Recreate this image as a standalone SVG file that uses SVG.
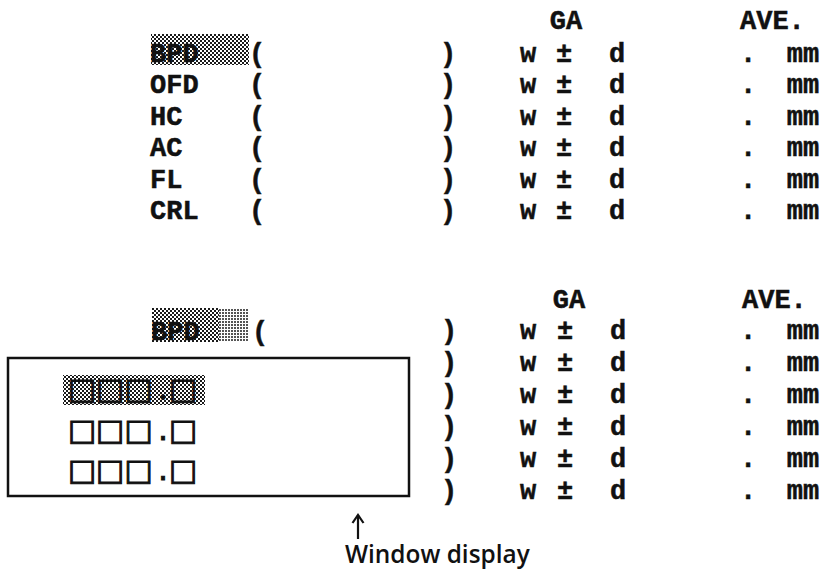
<svg xmlns="http://www.w3.org/2000/svg" width="824" height="569" viewBox="0 0 824 569">
<defs>
<pattern id="dither" width="4" height="4" patternUnits="userSpaceOnUse">
<rect width="4" height="4" fill="#ffffff"/>
<rect x="0" y="0" width="2" height="2" fill="#1a1a1a"/>
<rect x="2" y="2" width="2" height="2" fill="#1a1a1a"/>
</pattern>
<pattern id="dither2" width="3" height="3" patternUnits="userSpaceOnUse">
<rect width="3" height="3" fill="#ffffff"/>
<rect x="0" y="0" width="2" height="2" fill="#555555"/>
</pattern>
<marker id="arrowhead" viewBox="0 0 14 14" refX="12" refY="7" markerWidth="14" markerHeight="14" markerUnits="userSpaceOnUse" orient="auto">
<path d="M4,1.5 L12,7 L4,12.5" fill="none" stroke="#111" stroke-width="2.2"/>
</marker>
</defs>
<style>
.m{font-family:"Liberation Mono","Courier New",monospace;font-weight:bold;font-size:27px;fill:#111;stroke:#111;stroke-width:0.5}
.c{text-anchor:middle}
.sq{font-family:"DejaVu Sans",sans-serif;font-size:30px;fill:#111;stroke:#111;stroke-width:1;text-anchor:middle}
.cap{font-family:"Open Sans","Noto Sans",sans-serif;font-size:24.4px;font-weight:600;fill:#111}
.hl{fill:url(#dither)}
</style>
<rect width="824" height="569" fill="#ffffff"/>

<g id="top-table">
<g id="top-header">
<text class="m c" x="566" y="29">GA</text>
<text class="m" x="740" y="29">AVE.</text>
</g>
<g id="top-bpd">
<rect class="hl" x="151" y="34" width="98" height="31"/>
<text class="m" x="150" y="62">BPD</text>
<text class="m c" x="257" y="62">(</text>
<text class="m c" x="448" y="62">)</text>
<text class="m c" x="528" y="62">w</text>
<text class="m c" x="564" y="62">±</text>
<text class="m c" x="617" y="62">d</text>
<text class="m c" x="748" y="62">.</text>
<text class="m c" x="803" y="62">mm</text>
</g>
<g id="top-ofd">
<text class="m" x="150" y="93">OFD</text>
<text class="m c" x="257" y="93">(</text>
<text class="m c" x="448" y="93">)</text>
<text class="m c" x="528" y="93">w</text>
<text class="m c" x="564" y="93">±</text>
<text class="m c" x="617" y="93">d</text>
<text class="m c" x="748" y="93">.</text>
<text class="m c" x="803" y="93">mm</text>
</g>
<g id="top-hc">
<text class="m" x="150" y="125">HC</text>
<text class="m c" x="257" y="125">(</text>
<text class="m c" x="448" y="125">)</text>
<text class="m c" x="528" y="125">w</text>
<text class="m c" x="564" y="125">±</text>
<text class="m c" x="617" y="125">d</text>
<text class="m c" x="748" y="125">.</text>
<text class="m c" x="803" y="125">mm</text>
</g>
<g id="top-ac">
<text class="m" x="150" y="156">AC</text>
<text class="m c" x="257" y="156">(</text>
<text class="m c" x="448" y="156">)</text>
<text class="m c" x="528" y="156">w</text>
<text class="m c" x="564" y="156">±</text>
<text class="m c" x="617" y="156">d</text>
<text class="m c" x="748" y="156">.</text>
<text class="m c" x="803" y="156">mm</text>
</g>
<g id="top-fl">
<text class="m" x="150" y="188">FL</text>
<text class="m c" x="257" y="188">(</text>
<text class="m c" x="448" y="188">)</text>
<text class="m c" x="528" y="188">w</text>
<text class="m c" x="564" y="188">±</text>
<text class="m c" x="617" y="188">d</text>
<text class="m c" x="748" y="188">.</text>
<text class="m c" x="803" y="188">mm</text>
</g>
<g id="top-crl">
<text class="m" x="150" y="219">CRL</text>
<text class="m c" x="257" y="219">(</text>
<text class="m c" x="448" y="219">)</text>
<text class="m c" x="528" y="219">w</text>
<text class="m c" x="564" y="219">±</text>
<text class="m c" x="617" y="219">d</text>
<text class="m c" x="748" y="219">.</text>
<text class="m c" x="803" y="219">mm</text>
</g>
</g>

<g id="bottom-table">
<g id="bottom-header">
<text class="m c" x="569" y="308">GA</text>
<text class="m" x="742" y="308">AVE.</text>
</g>
<g id="bottom-bpd">
<rect class="hl" x="152" y="308" width="67" height="34"/>
<rect x="219" y="308" width="30" height="34" fill="url(#dither2)"/>
<text class="m" x="151" y="340">BPD</text>
<text class="m c" x="260" y="340">(</text>
</g>
<g id="bottom-rows">
<text class="m c" x="449" y="339">)</text>
<text class="m c" x="528" y="339">w</text>
<text class="m c" x="565" y="339">±</text>
<text class="m c" x="618" y="339">d</text>
<text class="m c" x="748" y="339">.</text>
<text class="m c" x="803" y="339">mm</text>
<text class="m c" x="449" y="371">)</text>
<text class="m c" x="528" y="371">w</text>
<text class="m c" x="565" y="371">±</text>
<text class="m c" x="618" y="371">d</text>
<text class="m c" x="748" y="371">.</text>
<text class="m c" x="803" y="371">mm</text>
<text class="m c" x="449" y="403">)</text>
<text class="m c" x="528" y="403">w</text>
<text class="m c" x="565" y="403">±</text>
<text class="m c" x="618" y="403">d</text>
<text class="m c" x="748" y="403">.</text>
<text class="m c" x="803" y="403">mm</text>
<text class="m c" x="449" y="435">)</text>
<text class="m c" x="528" y="435">w</text>
<text class="m c" x="565" y="435">±</text>
<text class="m c" x="618" y="435">d</text>
<text class="m c" x="748" y="435">.</text>
<text class="m c" x="803" y="435">mm</text>
<text class="m c" x="449" y="467">)</text>
<text class="m c" x="528" y="467">w</text>
<text class="m c" x="565" y="467">±</text>
<text class="m c" x="618" y="467">d</text>
<text class="m c" x="748" y="467">.</text>
<text class="m c" x="803" y="467">mm</text>
<text class="m c" x="449" y="499">)</text>
<text class="m c" x="528" y="499">w</text>
<text class="m c" x="565" y="499">±</text>
<text class="m c" x="618" y="499">d</text>
<text class="m c" x="748" y="499">.</text>
<text class="m c" x="803" y="499">mm</text>
</g>
</g>

<g id="window-display">
<rect x="8" y="358" width="401" height="138" fill="#ffffff" stroke="#111" stroke-width="2.5"/>
<rect class="hl" x="63" y="375" width="142" height="30"/>
<text class="sq" x="82 110 138.5 163 183" y="399">□□□.□</text>
<text class="sq" x="82 110 138.5 163 183" y="440">□□□.□</text>
<text class="sq" x="82 110 138.5 163 183" y="480">□□□.□</text>
</g>

<g id="connectors">
<line x1="358" y1="539" x2="358" y2="515" stroke="#111" stroke-width="2.2" marker-end="url(#arrowhead)"/>
</g>

<g id="caption">
<text class="cap" x="345" y="563">Window display</text>
</g>
</svg>
